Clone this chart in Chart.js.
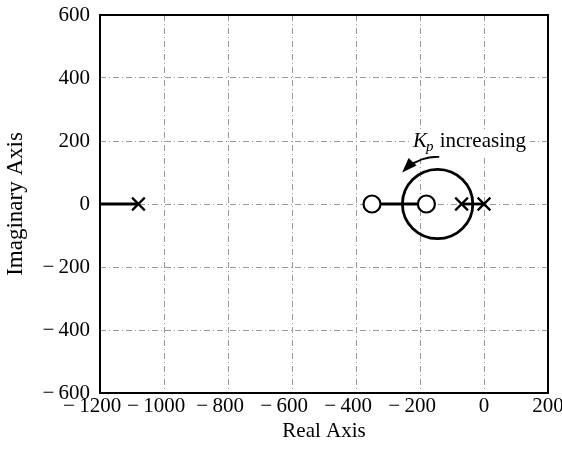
<!DOCTYPE html>
<html>
<head>
<meta charset="utf-8">
<script src="https://cdn.jsdelivr.net/npm/chart.js@4"></script>
<style>
  html, body { margin: 0; padding: 0; background: #fff; overflow: hidden; }
  #wrap { width: 562px; height: 450px; }
</style>
</head>
<body>
<div id="wrap"><canvas id="rlocus"></canvas></div>
<script>
// axis ticks
const realTicks = [-1200, -1000, -800, -600, -400, -200, 0, 200];
const imagTicks = [-600, -400, -200, 0, 200, 400, 600];

// open-loop poles (x) and zeros (o), all on the real axis
const poleRe = [-1080, -70, 0];
const zeroRe = [-350, -180];

// real-axis branches of the locus
const leftBranchRe = [-1200, -1080];
const zeroBranchRe = [-350, -180];
const poleBranchRe = [-70, 0];

// complex branch: circle centre / radius (real units)
const circleCenter = [-145, 0];
const circleRadius = [110];

// "Kp increasing" arrow (arc around the circle) and its label
const arrowRadius = [148];
const arrowAngles = [88, 136];
const labelAnchor = [-222, 200];

const SERIF = "'Liberation Serif', 'DejaVu Serif', serif";

function onAxis(arr) {
    return arr.map(v => ({ x: v, y: 0 }));
}

function branch(arr) {
    return {
        type: 'line',
        data: onAxis(arr),
        borderColor: '#000',
        borderWidth: 2.8,
        pointRadius: 0,
        order: 3
    };
}

// minus sign hangs left of the digits
function fmtY(v) {
    return v < 0 ? '\u2212\u2009' + Math.abs(v) : String(v);
}
// x labels: pad on the right so the digits sit centred on the tick
function fmtX(v) {
    return v < 0 ? '\u2212\u2009' + Math.abs(v) + ' \u2002' : String(v);
}

// frame, circle branch, arrow and label
const extras = {
    id: 'extras',
    beforeDatasetsDraw(chart) {
        const { ctx, scales: { x, y } } = chart;
        const cx = x.getPixelForValue(circleCenter[0]);
        const cy = y.getPixelForValue(circleCenter[1]);
        const rx = x.getPixelForValue(circleCenter[0] + circleRadius[0]) - cx;
        const ry = cy - y.getPixelForValue(circleCenter[1] + circleRadius[0]);
        ctx.save();
        ctx.strokeStyle = '#000';
        ctx.lineWidth = 2.8;
        ctx.beginPath();
        ctx.ellipse(cx, cy, rx, ry, 0, 0, Math.PI * 2);
        ctx.stroke();
        ctx.restore();
    },
    afterDatasetsDraw(chart) {
        const { ctx, chartArea: a, scales: { x, y } } = chart;
        ctx.save();

        // arrow
        const cx = x.getPixelForValue(circleCenter[0]);
        const cy = y.getPixelForValue(circleCenter[1]);
        const r = x.getPixelForValue(circleCenter[0] + arrowRadius[0]) - cx;
        const a0 = -arrowAngles[0] * Math.PI / 180;
        const a1 = -arrowAngles[1] * Math.PI / 180;
        ctx.strokeStyle = '#000';
        ctx.fillStyle = '#000';
        ctx.lineWidth = 2;
        ctx.beginPath();
        ctx.arc(cx, cy, r, a0, a1 + 0.12, true);
        ctx.stroke();
        const ex = cx + r * Math.cos(a1), ey = cy + r * Math.sin(a1);
        const tx = Math.sin(a1), ty = -Math.cos(a1);
        const nx = -ty, ny = tx;
        const L = 13, W = 5.5;
        ctx.beginPath();
        ctx.moveTo(ex + tx * 2, ey + ty * 2);
        ctx.lineTo(ex - tx * L + nx * W, ey - ty * L + ny * W);
        ctx.lineTo(ex - tx * L - nx * W, ey - ty * L - ny * W);
        ctx.closePath();
        ctx.fill();

        // label with white box
        const lx = x.getPixelForValue(labelAnchor[0]);
        const ly = y.getPixelForValue(labelAnchor[1]) + 6;
        ctx.font = 'italic 21px ' + SERIF;
        const wK = ctx.measureText('K').width;
        ctx.font = 'italic 15px ' + SERIF;
        const wP = ctx.measureText('p').width;
        ctx.font = '21px ' + SERIF;
        const wI = ctx.measureText(' increasing').width;
        ctx.fillStyle = '#fff';
        ctx.fillRect(lx - 4, ly - 17, wK + wP + wI + 8, 26);
        ctx.fillStyle = '#000';
        ctx.textBaseline = 'alphabetic';
        ctx.font = 'italic 21px ' + SERIF;
        ctx.fillText('K', lx, ly);
        ctx.font = 'italic 15px ' + SERIF;
        ctx.fillText('p', lx + wK - 1, ly + 4);
        ctx.font = '21px ' + SERIF;
        ctx.fillText(' increasing', lx + wK + wP, ly);

        // full frame
        ctx.strokeStyle = '#000';
        ctx.lineWidth = 2;
        ctx.strokeRect(a.left, a.top, a.right - a.left, a.bottom - a.top);
        ctx.restore();
    }
};

new Chart(document.getElementById('rlocus'), {
    type: 'scatter',
    data: {
        datasets: [
            branch(leftBranchRe),
            branch(zeroBranchRe),
            branch(poleBranchRe),
            {
                label: 'poles',
                data: onAxis(poleRe),
                pointStyle: 'crossRot',
                pointRadius: 9,
                borderColor: '#000',
                borderWidth: 2.2,
                order: 1
            },
            {
                label: 'zeros',
                data: onAxis(zeroRe),
                pointStyle: 'circle',
                pointRadius: 8.5,
                backgroundColor: '#fff',
                borderColor: '#000',
                borderWidth: 2.2,
                order: 1
            }
        ]
    },
    options: {
        responsive: true,
        maintainAspectRatio: false,
        animation: false,
        layout: { padding: { top: 15, right: 14, left: 0, bottom: 0 } },
        plugins: { legend: { display: false }, tooltip: { enabled: false } },
        scales: {
            x: {
                type: 'linear',
                min: realTicks[0],
                max: realTicks[realTicks.length - 1],
                afterBuildTicks: s => { s.ticks = realTicks.map(v => ({ value: v })); },
                afterFit: s => { s.height = 57; s.paddingLeft = 0; s.paddingRight = 0; },
                grid: { color: '#9a9a9a', lineWidth: 1, drawTicks: false },
                border: { display: false, dash: [6, 3, 1, 3] },
                ticks: {
                    padding: 1,
                    color: '#000',
                    font: { family: SERIF, size: 21 },
                    callback: v => fmtX(v),
                    maxRotation: 0,
                    autoSkip: false
                },
                title: {
                    display: true,
                    text: 'Real Axis',
                    color: '#000',
                    font: { family: SERIF, size: 21 },
                    padding: { top: 0, bottom: 6 }
                }
            },
            y: {
                type: 'linear',
                min: imagTicks[0],
                max: imagTicks[imagTicks.length - 1],
                afterBuildTicks: s => { s.ticks = imagTicks.map(v => ({ value: v })); },
                afterFit: s => { s.width = 100; s.paddingTop = 0; s.paddingBottom = 0; },
                grid: { color: '#9a9a9a', lineWidth: 1, drawTicks: false },
                border: { display: false, dash: [6, 3, 1, 3] },
                ticks: {
                    padding: 10,
                    color: '#000',
                    font: { family: SERIF, size: 21 },
                    callback: v => fmtY(v)
                },
                title: {
                    display: true,
                    text: 'Imaginary Axis',
                    color: '#000',
                    font: { family: SERIF, size: 23 },
                    padding: { top: 2, bottom: 0 }
                }
            }
        }
    },
    plugins: [extras]
});
</script>
</body>
</html>
